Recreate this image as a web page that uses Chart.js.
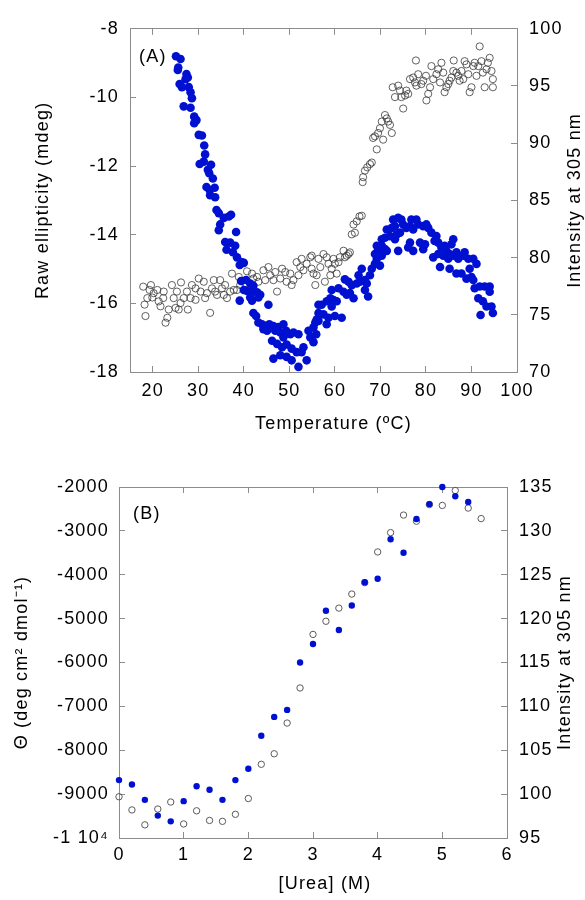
<!DOCTYPE html>
<html>
<head>
<meta charset="utf-8">
<script src="https://cdn.jsdelivr.net/npm/chart.js@4.4.1/dist/chart.umd.min.js"></script>
<style>
  html, body { margin: 0; padding: 0; background: #fff; }
  #wrap { position: relative; width: 585px; height: 900px; }
  canvas { position: absolute; left: 0; }
  #chartA { top: 0; }
  #chartB { top: 450px; }
</style>
</head>
<body>
<div id="wrap">
  <canvas id="chartA" width="585" height="450"></canvas>
  <canvas id="chartB" width="585" height="450"></canvas>
</div>
<script>
// Panel A: thermal melt, ellipticity (filled) and fluorescence (open)
const tempBlue = [25.1, 26.1, 25.6, 25.5, 27.4, 27.7, 27.2, 25.9, 26.4, 27.9, 28.3, 28.6, 26.8, 28.3, 29.1, 29.6, 29.1, 30.1, 30.8, 31.3,
  31.5, 30.3, 31.2, 32.8, 32.1, 32.4, 33.2, 31.8, 32.5, 33.6, 33.7, 32.6, 34.0, 34.5, 35.6, 36.7, 37.2, 34.8, 34.5, 38.3,
  35.9, 37.0, 38.1, 36.2, 37.6, 38.5, 39.6, 39.1, 40.0, 39.4, 40.5, 41.4, 42.1, 40.0, 40.7, 41.8, 42.9, 43.6, 41.4, 43.2,
  39.1, 41.8, 45.4, 42.1, 42.7, 43.2, 44.0, 44.7, 45.6, 46.5, 47.6, 48.7, 44.3, 45.1, 46.9, 48.0, 49.3, 50.2, 50.9, 52.0,
  48.7, 46.2, 47.3, 48.4, 49.4, 50.5, 51.6, 46.5, 48.0, 49.4, 50.5, 52.0, 53.1, 53.8, 52.7, 54.6, 54.2, 55.3, 55.7, 56.0,
  56.4, 56.4, 54.9, 55.3, 55.9, 56.4, 57.5, 58.2, 58.6, 57.1, 58.2, 59.0, 59.7, 60.4, 59.3, 60.0, 61.5, 59.3, 60.8, 61.9,
  62.6, 63.3, 64.1, 62.2, 63.0, 63.7, 64.8, 65.5, 65.2, 65.9, 66.6, 67.0, 67.3, 66.6, 67.7, 68.1, 68.8, 69.9, 69.2, 70.3,
  68.8, 69.5, 69.2, 70.3, 71.0, 71.4, 70.3, 71.0, 72.1, 71.4, 72.5, 73.2, 72.8, 73.9, 74.6, 75.0, 75.7, 76.5, 77.2, 76.8,
  77.9, 78.3, 79.4, 80.1, 80.5, 81.2, 82.3, 73.6, 74.3, 73.2, 76.5, 73.9, 76.1, 77.2, 78.7, 79.4, 79.8, 81.9, 82.7, 83.4,
  84.1, 84.5, 86.0, 85.6, 81.6, 82.7, 83.8, 84.9, 85.2, 86.0, 86.7, 87.1, 88.2, 88.5, 89.3, 90.4, 91.1, 83.1, 85.2, 86.7,
  87.8, 89.6, 88.9, 90.0, 90.4, 90.7, 91.8, 92.9, 94.0, 94.0, 91.5, 92.5, 93.3, 94.4, 94.7, 92.0];
const ellipBlue = [-8.80, -8.88, -9.13, -9.20, -9.32, -9.42, -9.47, -9.61, -9.70, -9.70, -9.85, -10.02, -10.26, -10.30, -10.56, -10.66, -10.75, -11.09, -11.11, -11.40,
  -11.66, -11.94, -11.87, -11.96, -12.11, -12.21, -12.36, -12.61, -12.70, -12.63, -12.91, -12.85, -13.28, -13.37, -13.51, -13.47, -13.42, -13.70, -13.87, -13.92,
  -14.21, -14.23, -14.32, -14.44, -14.51, -14.66, -14.80, -14.88, -14.82, -15.35, -15.32, -15.42, -15.49, -15.61, -15.64, -15.66, -15.68, -15.75, -15.83, -15.83,
  -15.92, -15.92, -16.04, -16.28, -16.37, -16.56, -16.61, -16.66, -16.61, -16.66, -16.69, -16.61, -16.75, -16.80, -16.80, -16.85, -16.80, -16.90, -16.85, -16.90,
  -16.99, -17.09, -17.18, -17.28, -17.20, -17.32, -17.42, -17.61, -17.51, -17.56, -17.66, -17.85, -17.28, -17.66, -17.42, -16.99, -16.80, -16.70, -16.56, -16.47,
  -16.28, -16.04, -16.99, -17.13, -16.90, -16.51, -16.32, -16.61, -16.42, -16.04, -15.94, -15.85, -15.90, -15.94, -16.09, -16.37, -16.42, -15.61, -15.56, -15.66,
  -15.75, -15.70, -15.85, -15.30, -15.37, -15.47, -15.42, -15.37, -15.18, -14.99, -15.32, -15.42, -15.80, -15.61, -15.18, -14.99, -14.85, -14.90, -14.70, -14.61,
  -14.56, -14.42, -14.32, -14.32, -14.42, -14.47, -14.13, -14.09, -14.04, -13.85, -13.80, -13.75, -13.56, -13.51, -13.56, -13.70, -13.80, -13.75, -13.85, -13.56,
  -13.56, -13.70, -13.75, -13.70, -13.80, -13.94, -14.04, -13.99, -13.94, -14.13, -14.23, -14.47, -14.37, -14.47, -14.23, -14.42, -14.28, -14.18, -14.23, -14.37,
  -14.32, -14.47, -14.13, -14.28, -14.66, -14.56, -14.61, -14.70, -14.56, -14.61, -14.51, -14.70, -14.61, -14.51, -14.70, -14.70, -14.85, -14.94, -14.99, -15.13,
  -15.13, -14.99, -15.28, -15.23, -15.32, -15.56, -15.51, -15.51, -15.51, -15.66, -15.85, -15.94, -16.09, -16.09, -16.28, -16.34];

const tempOpen = [17.9, 18.2, 18.4, 19.3, 19.6, 18.8, 19.9, 20.2, 21.0, 21.3, 21.7, 22.4, 22.3, 22.8, 23.2, 23.5, 24.2, 24.6, 25.0, 25.3,
  25.7, 26.1, 26.2, 26.8, 27.5, 27.7, 28.3, 28.6, 29.4, 29.4, 30.1, 30.5, 31.2, 31.5, 31.9, 32.6, 33.0, 33.4, 33.7, 34.1,
  34.8, 35.2, 35.6, 35.9, 36.3, 37.0, 37.4, 37.8, 38.5, 38.9, 39.2, 40.7, 40.3, 41.8, 42.1, 42.9, 43.2, 44.3, 44.7, 45.4,
  45.8, 46.5, 46.9, 47.3, 48.0, 48.4, 49.1, 49.4, 50.2, 50.5, 50.9, 51.6, 52.0, 52.4, 52.7, 53.1, 53.8, 54.6, 54.9, 55.7,
  56.0, 54.9, 55.3, 56.4, 56.8, 57.5, 57.8, 58.2, 58.6, 59.0, 59.3, 59.7, 60.0, 60.4, 60.8, 61.1, 61.9, 62.2, 62.6, 63.0,
  63.3, 63.7, 64.4, 64.1, 64.8, 65.4, 65.9, 66.1, 66.2, 66.6, 67.1, 67.7, 68.1, 68.4, 68.8, 69.2, 69.5, 69.9, 70.3, 70.6,
  71.0, 71.4, 71.7, 72.1, 72.5, 72.7, 73.2, 73.9, 74.3, 74.6, 75.0, 75.4, 75.7, 76.1, 76.5, 77.2, 77.6, 77.8, 77.9, 78.3,
  79.0, 79.4, 80.0, 80.1, 80.5, 80.9, 81.2, 81.6, 82.3, 82.7, 83.1, 83.4, 83.8, 84.1, 84.5, 84.9, 85.2, 85.6, 86.0, 86.1,
  86.7, 87.1, 87.4, 87.8, 88.2, 88.5, 88.9, 89.3, 89.6, 90.0, 90.4, 90.7, 91.1, 91.5, 91.8, 92.2, 92.5, 92.9, 93.3, 93.6,
  94.0, 94.4, 94.7, 94.7];
const intensOpen = [77.46, 75.89, 74.89, 77.17, 77.60, 76.46, 76.51, 76.89, 77.17, 76.17, 75.74, 77.03, 76.46, 74.31, 74.74, 75.46, 77.60, 76.46, 75.60, 77.03,
  75.46, 76.03, 77.83, 76.46, 77.03, 75.46, 76.46, 77.60, 77.31, 76.31, 78.17, 77.03, 77.89, 76.46, 76.89, 75.17, 77.31, 78.03, 77.03, 76.74,
  78.03, 77.31, 76.74, 77.60, 76.46, 77.03, 78.60, 77.17, 77.17, 78.31, 77.60, 78.80, 77.74, 78.60, 78.17, 78.31, 77.89, 78.89, 78.03, 79.17,
  78.46, 78.03, 78.74, 77.03, 78.17, 79.03, 78.74, 77.89, 78.60, 77.60, 78.03, 79.60, 78.46, 79.17, 79.89, 78.89, 79.46, 80.03, 79.03, 77.60,
  78.46, 80.17, 78.60, 79.89, 79.17, 80.31, 77.89, 80.03, 79.46, 78.46, 79.03, 79.89, 79.46, 78.60, 79.60, 80.03, 80.60, 80.03, 80.17, 80.31,
  80.46, 82.03, 82.17, 82.89, 83.17, 83.60, 83.66, 86.60, 87.03, 87.60, 87.89, 88.17, 88.31, 90.46, 90.60, 89.46, 90.89, 91.31, 91.89, 90.31,
  92.46, 92.17, 91.89, 91.60, 90.89, 94.89, 94.03, 95.03, 94.60, 94.03, 93.03, 94.17, 94.60, 94.31, 95.60, 95.74, 95.31, 97.23, 95.03, 96.03,
  95.17, 95.46, 95.89, 93.74, 94.31, 94.89, 96.74, 95.60, 96.03, 96.46, 95.31, 97.03, 96.17, 94.46, 94.89, 95.17, 95.46, 95.74, 96.31, 97.23,
  96.17, 95.89, 95.46, 96.31, 95.60, 97.17, 96.89, 96.03, 94.46, 94.89, 96.74, 97.03, 95.89, 96.74, 98.46, 97.17, 96.17, 94.89, 96.46, 97.03,
  97.46, 96.31, 95.60, 94.89];

const tempTicks = [20, 30, 40, 50, 60, 70, 80, 90, 100];
const ellipTicks = [-18, -16, -14, -12, -10, -8];
const intensTicksA = [70, 75, 80, 85, 90, 95, 100];

// Panel B: urea denaturation
const ureaBlue = [0, 0.2, 0.4, 0.6, 0.8, 1.0, 1.2, 1.4, 1.6, 1.8, 2.0, 2.2, 2.4, 2.6, 2.8, 3.0, 3.2, 3.4, 3.6, 3.8, 4.0, 4.2, 4.4, 4.6, 4.8, 5.0, 5.2, 5.4];
const thetaBlue = [-8680, -8780, -9130, -9490, -9620, -9160, -8820, -8900, -9130, -8680, -8420, -7670, -7240, -7080, -6000, -5580, -4820, -5260, -4700, -4170, -4090, -3190, -3500, -2730, -2390, -2000, -2210, -2340];
const ureaOpen = [0, 0.2, 0.4, 0.6, 0.8, 1.0, 1.2, 1.4, 1.6, 1.8, 2.0, 2.2, 2.4, 2.6, 2.8, 3.0, 3.2, 3.4, 3.6, 3.8, 4.0, 4.2, 4.4, 4.6, 4.8, 5.0, 5.2, 5.4, 5.6];
const intensOpenB = [99.7, 98.2, 96.5, 98.3, 99.1, 96.6, 98.1, 97.0, 96.9, 97.7, 99.5, 103.4, 104.6, 108.1, 112.1, 118.2, 119.7, 121.2, 122.8, 124.1, 127.6, 129.8, 131.8, 131.1, 133.0, 132.9, 134.6, 132.6, 131.4];

const ureaTicks = [0, 1, 2, 3, 4, 5, 6];
const thetaTicks = [-10000, -9000, -8000, -7000, -6000, -5000, -4000, -3000, -2000];
const thetaTickLabels = ['-1 10\u2074', '-9000', '-8000', '-7000', '-6000', '-5000', '-4000', '-3000', '-2000'];
const intensTicksB = [95, 100, 105, 110, 115, 120, 125, 130, 135];

const FONT = '"Liberation Sans", Arial, Helvetica, sans-serif';
const axisGray = '#8c8c8c';
const dotBlue = '#0010d0';

Chart.defaults.font.family = FONT;
Chart.defaults.font.size = 18;
Chart.defaults.color = '#000';

const pairs = (xs, ys) => xs.map((x, i) => ({ x, y: ys[i] }));

// frame axis with inward ticks; size fixes the box so the plot area lands where the figure has it
const frameAxis = (position, min, max, tickVals, size, extra = {}) => ({
    type: 'linear',
    position,
    min, max,
    afterBuildTicks: (s) => { s.ticks = tickVals.map(v => ({ value: v })); },
    afterFit: (s) => {
        if (position === 'left' || position === 'right') s.width = size;
        else s.height = size;
    },
    border: { display: true, color: axisGray, width: 1 },
    grid: { drawOnChartArea: false, color: axisGray, tickLength: -6, lineWidth: 1 },
    ...extra
});

// the figure's lettering runs a bit wider than Arial, so space it out
const wideText = {
    id: 'wideText',
    beforeDraw(chart) { chart.ctx.letterSpacing = '1.2px'; }
};

// panel letter, x title (sits a little right of centre in the figure)
// and right-hand axis title (reads bottom to top like the left one)
const extraText = {
    id: 'extraText',
    afterDraw(chart, args, opts) {
        const { ctx, chartArea } = chart;
        const midX = (chartArea.left + chartArea.right) / 2;
        ctx.save();
        ctx.fillStyle = '#000';
        ctx.font = '18px ' + FONT;
        ctx.textAlign = 'left';
        ctx.textBaseline = 'middle';
        ctx.fillText(opts.panel, chartArea.left + opts.panelDx, chartArea.top + opts.panelDy);
        ctx.textAlign = 'center';
        ctx.fillText(opts.bottomTitle, midX + opts.bottomDx, chartArea.bottom + opts.bottomDy);
        ctx.translate(chartArea.right + opts.titleDx, (chartArea.top + chartArea.bottom) / 2);
        ctx.rotate(-Math.PI / 2);
        ctx.fillText(opts.rightTitle, 0, 0);
        ctx.restore();
    }
};

const baseOptions = {
    responsive: false,
    animation: false,
    devicePixelRatio: 1,
    events: []
};

// Panel A
new Chart(document.getElementById('chartA'), {
    type: 'scatter',
    data: {
        datasets: [{
            data: pairs(tempBlue, ellipBlue),
            yAxisID: 'y',
            pointRadius: 4.3,
            pointBackgroundColor: dotBlue,
            pointBorderWidth: 0,
            clip: false
        }, {
            data: pairs(tempOpen, intensOpen),
            yAxisID: 'y1',
            pointRadius: 3.6,
            pointBackgroundColor: 'rgba(0,0,0,0)',
            pointBorderColor: '#3a3a3a',
            pointBorderWidth: 0.8,
            clip: false
        }]
    },
    options: {
        ...baseOptions,
        layout: { padding: { top: 22, left: 0, right: 0, bottom: 0 } },
        scales: {
            x: frameAxis('bottom', 15, 100, tempTicks, 78, {
                ticks: { padding: 14, autoSkip: false, maxRotation: 0 }
            }),
            x2: frameAxis('top', 15, 100, tempTicks, 0, { ticks: { display: false } }),
            y: frameAxis('left', -18, -8, ellipTicks, 130, {
                ticks: { padding: 17, autoSkip: false },
                title: { display: true, text: 'Raw ellipticity (mdeg)', padding: { top: 32, bottom: 0 } }
            }),
            y1: frameAxis('right', 70, 100, intensTicksA, 68, {
                ticks: { padding: 18, autoSkip: false }
            })
        },
        plugins: {
            legend: { display: false },
            tooltip: { enabled: false },
            extraText: {
                panel: '(A)', panelDx: 9, panelDy: 28,
                bottomTitle: 'Temperature (\u00baC)', bottomDx: 10, bottomDy: 52,
                rightTitle: 'Intensity at 305 nm', titleDx: 58
            }
        }
    },
    plugins: [wideText, extraText]
});

// Panel B
new Chart(document.getElementById('chartB'), {
    type: 'scatter',
    data: {
        datasets: [{
            data: pairs(ureaBlue, thetaBlue),
            yAxisID: 'y',
            pointRadius: 3.2,
            pointBackgroundColor: dotBlue,
            pointBorderWidth: 0,
            clip: false
        }, {
            data: pairs(ureaOpen, intensOpenB),
            yAxisID: 'y1',
            pointRadius: 3.2,
            pointBackgroundColor: 'rgba(0,0,0,0)',
            pointBorderColor: '#5a5a5a',
            pointBorderWidth: 1,
            clip: false
        }]
    },
    options: {
        ...baseOptions,
        layout: { padding: { top: 37, left: 0, right: 0, bottom: 0 } },
        scales: {
            x: frameAxis('bottom', 0, 6, ureaTicks, 62, {
                ticks: { padding: 12, autoSkip: false, maxRotation: 0 }
            }),
            x2: frameAxis('top', 0, 6, ureaTicks, 0, { ticks: { display: false } }),
            y: frameAxis('left', -10000, -2000, thetaTicks, 119, {
                ticks: { padding: 16, autoSkip: false, callback: (v, i) => thetaTickLabels[i] },
                title: { display: true, text: '\u0398 (deg cm\u00b2 dmol\u207b\u00b9)', padding: { top: 11, bottom: 0 } }
            }),
            y1: frameAxis('right', 95, 135, intensTicksB, 78, {
                ticks: { padding: 18, autoSkip: false }
            })
        },
        plugins: {
            legend: { display: false },
            tooltip: { enabled: false },
            extraText: {
                panel: '(B)', panelDx: 14, panelDy: 27,
                bottomTitle: '[Urea] (M)', bottomDx: 12, bottomDy: 46,
                rightTitle: 'Intensity at 305 nm', titleDx: 58
            }
        }
    },
    plugins: [wideText, extraText]
});
</script>
</body>
</html>
